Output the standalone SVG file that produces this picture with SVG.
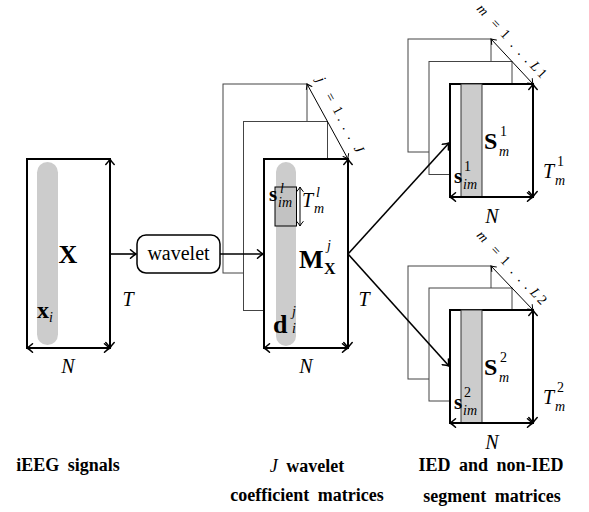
<svg xmlns="http://www.w3.org/2000/svg" width="589" height="512" viewBox="0 0 589 512">
<defs>
<style>
text{font-family:"Liberation Serif","Times New Roman",serif;fill:#000}
.it{font-style:italic}
.bf{font-weight:bold}
.front{fill:#fff;stroke:#000;stroke-width:2}
.back{fill:#fff;stroke:#444;stroke-width:1}
.pill{fill:#ccc;stroke:none}
.dim{stroke:#000;stroke-width:2;fill:none;marker-start:url(#ah);marker-end:url(#ah)}
.thin{stroke:#000;stroke-width:1;fill:none;marker-start:url(#as);marker-end:url(#as)}
.conn{stroke:#000;stroke-width:1.6;fill:none;marker-end:url(#ah)}
.cap{font-weight:bold;font-size:18px;word-spacing:4px;text-anchor:middle}
.big{font-weight:bold;font-size:26px}
.sym{font-style:italic;font-size:20px}
.sub{font-size:14px}
.lab{font-size:14px;text-anchor:middle}
</style>
<marker id="ah" viewBox="-7 -5 8 10" markerWidth="8" markerHeight="10" refX="0" refY="0" orient="auto-start-reverse" markerUnits="userSpaceOnUse">
<path d="M-5.5,-4.2 Q-2,-1 0,0 Q-2,1 -5.5,4.2" fill="none" stroke="#000" stroke-width="1.5" stroke-linecap="round"/>
</marker>
<marker id="as" viewBox="-6 -4 7 8" markerWidth="7" markerHeight="8" refX="0" refY="0" orient="auto-start-reverse" markerUnits="userSpaceOnUse">
<path d="M-4.5,-3.2 Q-1.6,-0.8 0,0 Q-1.6,0.8 -4.5,3.2" fill="none" stroke="#000" stroke-width="1" stroke-linecap="round"/>
</marker>
</defs>
<rect width="589" height="512" fill="#fff"/>

<g id="matrix-X">
<rect class="front" x="27" y="159" width="83" height="189"/>
<rect class="pill" x="37" y="162" width="21" height="183" rx="10.5"/>
<text class="big" x="68" y="263" text-anchor="middle">X</text>
<text x="37" y="318"><tspan class="bf" font-size="24px">x</tspan><tspan class="it sub" dy="4">i</tspan></text>
<line class="dim" x1="110" y1="159" x2="110" y2="348"/>
<line class="dim" x1="27" y1="348" x2="110" y2="348"/>
<text class="sym" x="128" y="306" text-anchor="middle">T</text>
<text class="sym" x="68" y="373" text-anchor="middle">N</text>
</g>

<g id="wavelet">
<rect x="137" y="235" width="83" height="38" rx="9" fill="#fff" stroke="#000" stroke-width="1.5"/>
<text x="178.5" y="260" font-size="20px" text-anchor="middle">wavelet</text>
</g>

<g id="stack-M">
<rect class="back" x="223" y="84" width="84" height="189"/>
<rect class="back" x="243.5" y="121.5" width="84" height="189"/>
<rect class="front" x="264" y="159" width="84" height="189"/>
<rect class="pill" x="276" y="162" width="20" height="184" rx="10"/>
<rect x="275" y="187" width="21.5" height="39" fill="#c2c2c2" stroke="#000" stroke-width="1"/>
<line class="thin" x1="300" y1="187" x2="300" y2="226"/>
<text x="269" y="201"><tspan class="bf" font-size="21px">s</tspan></text>
<text class="it sub" x="280" y="193">l</text>
<text class="it sub" x="278" y="207">im</text>
<text class="sym" x="302" y="207">T</text>
<text class="it sub" x="316" y="197">l</text>
<text class="it sub" x="314" y="213">m</text>
<text class="big" x="299" y="268">M</text>
<text class="it sub" x="327" y="250">j</text>
<text class="bf" x="324" y="274" font-size="16px">X</text>
<text class="big" x="273" y="333">d</text>
<text class="it sub" x="292" y="316">j</text>
<text class="it sub" x="292" y="333">i</text>
<line class="dim" x1="348" y1="159" x2="348" y2="348"/>
<line class="dim" x1="264" y1="348" x2="348" y2="348"/>
<line class="thin" x1="307" y1="84" x2="348" y2="159"/>
<g transform="translate(327.5,121.5) rotate(61.3)"><text class="lab" y="-10"><tspan class="it" x="-40">j</tspan><tspan x="-20">=</tspan><tspan x="-5">1</tspan><tspan x="4">.</tspan><tspan x="14">.</tspan><tspan x="25">.</tspan><tspan class="it" x="39">J</tspan></text></g>
<text class="sym" x="364" y="306" text-anchor="middle">T</text>
<text class="sym" x="306" y="373" text-anchor="middle">N</text>
</g>

<g id="stack-S1">
<rect class="back" x="408" y="39" width="83" height="113"/>
<rect class="back" x="429" y="61.5" width="83" height="113"/>
<rect class="front" x="450" y="84" width="83" height="113"/>
<rect x="461" y="84" width="21" height="113" fill="#ccc" stroke="#333" stroke-width="1"/>
<text class="bf" x="484" y="149" font-size="24px">S</text>
<text class="sub" x="500" y="136">1</text>
<text class="it sub" x="499" y="156">m</text>
<text class="bf" x="454" y="183" font-size="21px">s</text>
<text class="sub" x="464" y="171">1</text>
<text class="it sub" x="463" y="189">im</text>
<text class="sym" x="543" y="178">T</text>
<text class="sub" x="557" y="166">1</text>
<text class="it sub" x="555" y="185">m</text>
<line class="dim" x1="533" y1="84" x2="533" y2="197"/>
<line class="dim" x1="450" y1="197" x2="533" y2="197"/>
<line class="thin" x1="491" y1="39" x2="533" y2="84"/>
<g transform="translate(512.5,61.5) rotate(47)"><text class="lab" y="-9"><tspan class="it" x="-58">m</tspan><tspan x="-39">=</tspan><tspan x="-25">1</tspan><tspan x="-12">.</tspan><tspan x="-1">.</tspan><tspan x="9">.</tspan><tspan class="it" x="19">L</tspan><tspan x="29">1</tspan></text></g>
<text class="sym" x="492" y="223" text-anchor="middle">N</text>
</g>

<g id="stack-S2">
<rect class="back" x="408" y="266" width="83" height="113"/>
<rect class="back" x="429" y="288" width="83" height="113"/>
<rect class="front" x="450" y="310" width="83" height="113"/>
<rect x="461" y="310" width="21" height="113" fill="#ccc" stroke="#333" stroke-width="1"/>
<text class="bf" x="484" y="375" font-size="24px">S</text>
<text class="sub" x="500" y="362">2</text>
<text class="it sub" x="499" y="382">m</text>
<text class="bf" x="454" y="409" font-size="21px">s</text>
<text class="sub" x="464" y="397">2</text>
<text class="it sub" x="463" y="415">im</text>
<text class="sym" x="543" y="404">T</text>
<text class="sub" x="557" y="392">2</text>
<text class="it sub" x="555" y="411">m</text>
<line class="dim" x1="533" y1="310" x2="533" y2="423"/>
<line class="dim" x1="450" y1="423" x2="533" y2="423"/>
<line class="thin" x1="491" y1="266" x2="533" y2="310"/>
<g transform="translate(512.5,288) rotate(47)"><text class="lab" y="-9"><tspan class="it" x="-58">m</tspan><tspan x="-39">=</tspan><tspan x="-25">1</tspan><tspan x="-12">.</tspan><tspan x="-1">.</tspan><tspan x="9">.</tspan><tspan class="it" x="19">L</tspan><tspan x="29">2</tspan></text></g>
<text class="sym" x="492" y="449" text-anchor="middle">N</text>
</g>

<g id="connectors">
<line class="conn" x1="110" y1="254" x2="136" y2="254"/>
<line class="conn" x1="220" y1="254" x2="263" y2="254"/>
<line class="conn" x1="348" y1="254" x2="449" y2="143"/>
<line class="conn" x1="348" y1="254" x2="449" y2="366"/>
</g>

<g id="captions">
<text class="cap" x="68" y="471">iEEG signals</text>
<text class="cap" x="307" y="472"><tspan font-weight="normal" font-style="italic">J</tspan> wavelet</text>
<text class="cap" x="307" y="501">coefficient matrices</text>
<text class="cap" x="491" y="471">IED and non-IED</text>
<text class="cap" x="492" y="502">segment matrices</text>
</g>
</svg>
